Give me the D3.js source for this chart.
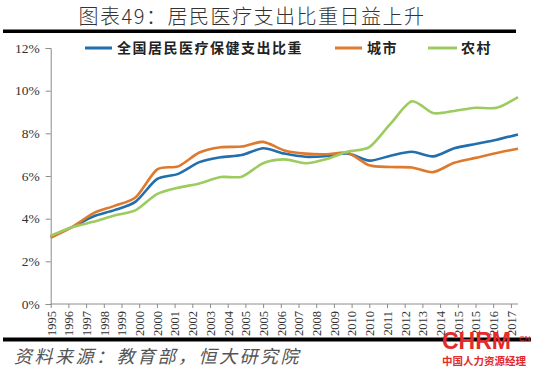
<!DOCTYPE html>
<html>
<head>
<meta charset="utf-8">
<script src="https://cdn.jsdelivr.net/npm/d3@7"></script>
<style>
  body { margin: 0; background: #fff; }
  svg { display: block; }
</style>
</head>
<body>
<div id="chart"></div>
<script>
// data (percent)
const years = d3.range(1995, 2018);
const national = [3.15, 3.6, 4.1, 4.4, 4.8, 5.85, 6.1, 6.65, 6.88, 6.98, 7.3, 7.05, 6.9, 6.94, 7.05, 6.72, 6.95, 7.14, 6.92, 7.3, 7.5, 7.7, 7.95];
const urban = [3.1, 3.6, 4.25, 4.6, 5.0, 6.3, 6.45, 7.1, 7.35, 7.38, 7.6, 7.2, 7.05, 7.02, 7.08, 6.5, 6.42, 6.4, 6.18, 6.62, 6.85, 7.08, 7.28];
const rural = [3.2, 3.6, 3.85, 4.15, 4.4, 5.15, 5.45, 5.65, 5.95, 5.97, 6.6, 6.78, 6.6, 6.8, 7.15, 7.35, 8.45, 9.5, 8.95, 9.05, 9.2, 9.2, 9.7];
const seriesNames = ["全国居民医疗保健支出比重", "城市", "农村"];
const seriesColors = ["#236fad", "#de7a2e", "#9ccb60"];
const xTickLabels = ["1995", "1996", "1997", "1998", "1999", "2000", "2000", "2001", "2002", "2003", "2004", "2005", "2005", "2006", "2007", "2008", "2009", "2010", "2010", "2011", "2012", "2013", "2014", "2015", "2015", "2016", "2017"];
const yTicks = [0, 2, 4, 6, 8, 10, 12];

const width = 550, height = 376;
const plot = { left: 50.7, right: 518, top: 48, bottom: 304 };

const svg = d3.select("#chart")
  .append("svg")
  .attr("width", width)
  .attr("height", height);

// title + rules
svg.append("text")
  .attr("x", 252)
  .attr("y", 24)
  .attr("text-anchor", "middle")
  .style("font-family", "'Noto Sans CJK SC', sans-serif")
  .style("font-size", "20px")
  .style("font-weight", "300")
  .style("letter-spacing", "1.5px")
  .style("fill", "#333")
  .text("图表49：居民医疗支出比重日益上升");

svg.append("line")
  .attr("x1", 3).attr("x2", 516)
  .attr("y1", 31.3).attr("y2", 31.3)
  .attr("stroke", "#000").attr("stroke-width", 3.5);

svg.append("line")
  .attr("x1", 3).attr("x2", 531)
  .attr("y1", 339.5).attr("y2", 339.5)
  .attr("stroke", "#000").attr("stroke-width", 4);

// scales
const x = d3.scaleLinear().domain([1995, 2017]).range([plot.left, plot.right]);
const xTick = d3.scaleLinear().domain([0, xTickLabels.length - 1]).range([plot.left, 510.9]);
const y = d3.scaleLinear().domain([0, 12]).range([plot.bottom, plot.top]);

// Y axis
const yAxis = svg.append("g")
  .attr("transform", `translate(${plot.left},0)`)
  .call(d3.axisLeft(y).tickValues(yTicks).tickFormat(d => d + "%").tickSize(5).tickPadding(6));
yAxis.select(".domain").attr("stroke", "#8c8c8c");
yAxis.selectAll(".tick line").attr("stroke", "#8c8c8c");
yAxis.selectAll("text")
  .style("font-family", "'Liberation Serif', serif")
  .style("font-size", "13.5px")
  .style("fill", "#333");

// X axis
const xAxis = svg.append("g")
  .attr("transform", `translate(0,${plot.bottom})`)
  .call(d3.axisBottom(xTick).tickValues(d3.range(xTickLabels.length)).tickFormat(i => xTickLabels[i]).tickSize(4).tickSizeOuter(0));
xAxis.select(".domain").attr("d", `M${plot.left},0H${plot.right}`).attr("stroke", "#8c8c8c");
xAxis.selectAll(".tick line").attr("stroke", "#8c8c8c");
xAxis.selectAll("text")
  .attr("transform", "rotate(-90)")
  .attr("x", -7)
  .attr("y", 0)
  .attr("dy", "0.35em")
  .style("text-anchor", "end")
  .style("font-family", "'Liberation Serif', serif")
  .style("font-size", "12.5px")
  .style("fill", "#333");

// lines
const line = d3.line()
  .x((d, i) => x(years[i]))
  .y(d => y(d))
  .curve(d3.curveCardinal.tension(0.2));

[national, urban, rural].forEach((values, k) => {
  svg.append("path")
    .datum(values)
    .attr("fill", "none")
    .attr("stroke", seriesColors[k])
    .attr("stroke-width", 2.6)
    .attr("stroke-linejoin", "round")
    .attr("d", line);
});

// legend
const legendItems = [
  { x1: 85, x2: 112, tx: 117 },
  { x1: 335, x2: 362, tx: 367 },
  { x1: 428, x2: 457, tx: 461 }
];
const legend = svg.append("g").attr("class", "legend");
legend.selectAll("line")
  .data(legendItems)
  .join("line")
  .attr("x1", d => d.x1).attr("x2", d => d.x2)
  .attr("y1", 48).attr("y2", 48)
  .attr("stroke", (d, i) => seriesColors[i])
  .attr("stroke-width", 3);
legend.selectAll("text")
  .data(legendItems)
  .join("text")
  .attr("x", d => d.tx)
  .attr("y", 53)
  .style("font-family", "'Noto Sans CJK SC', sans-serif")
  .style("font-size", "14px")
  .style("font-weight", "bold")
  .style("letter-spacing", "1.5px")
  .style("fill", "#222")
  .text((d, i) => seriesNames[i]);

// source
svg.append("text")
  .attr("x", 14)
  .attr("y", 363)
  .style("font-family", "'Noto Sans CJK SC', sans-serif")
  .style("font-size", "18px")
  .style("font-style", "italic")
  .style("letter-spacing", "2.5px")
  .style("fill", "#555")
  .text("资料来源：教育部，恒大研究院");

// watermark
svg.append("text")
  .attr("x", 442)
  .attr("y", 349)
  .style("font-family", "'Liberation Sans', sans-serif")
  .style("font-size", "23px")
  .style("font-weight", "bold")
  .style("fill", "#e32b2b")
  .text("CHRM");
svg.append("text")
  .attr("x", 519)
  .attr("y", 341)
  .style("font-family", "'Liberation Sans', sans-serif")
  .style("font-size", "8px")
  .style("fill", "#e32b2b")
  .text("CN");
svg.append("text")
  .attr("x", 442)
  .attr("y", 365)
  .style("font-family", "'Noto Sans CJK SC', sans-serif")
  .style("font-size", "10.5px")
  .style("font-weight", "bold")
  .style("fill", "#e32b2b")
  .text("中国人力资源经理");
</script>
</body>
</html>
